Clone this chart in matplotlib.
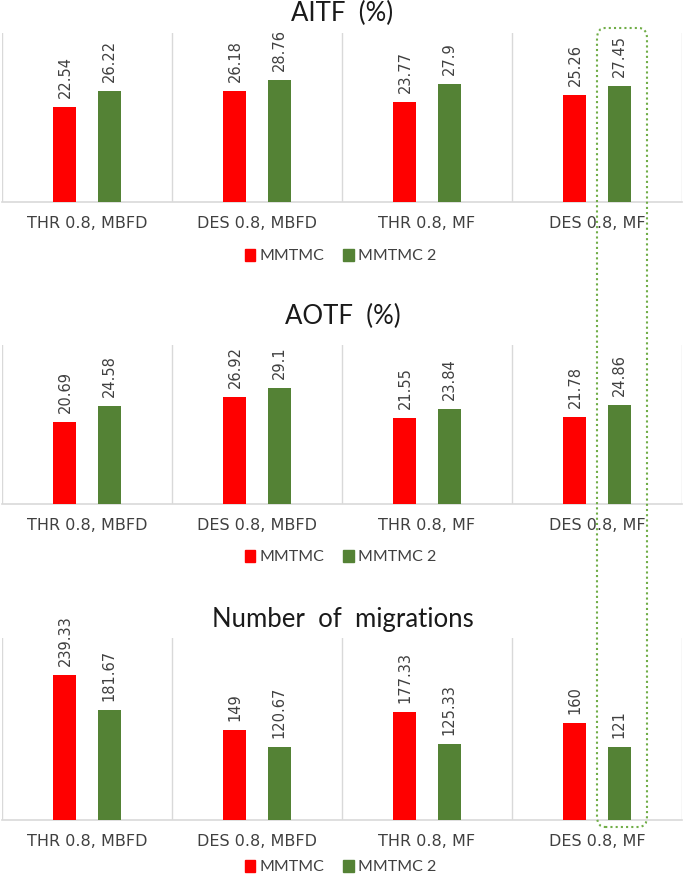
import matplotlib
matplotlib.use("Agg")
import matplotlib.pyplot as plt
import numpy as np
from matplotlib.patches import FancyBboxPatch, Patch

categories = ['THR 0.8, MBFD', 'DES 0.8, MBFD', 'THR 0.8, MF', 'DES 0.8, MF']
series = ['MMTMC', 'MMTMC 2']

aitf_mmtmc = [22.54, 26.18, 23.77, 25.26]
aitf_mmtmc2 = [26.22, 28.76, 27.9, 27.45]
aotf_mmtmc = [20.69, 26.92, 21.55, 21.78]
aotf_mmtmc2 = [24.58, 29.1, 23.84, 24.86]
mig_mmtmc = [239.33, 149, 177.33, 160]
mig_mmtmc2 = [181.67, 120.67, 125.33, 121]

titles = ['AITF  (%)', 'AOTF  (%)', 'Number  of  migrations']
ymax = [40, 40, 300]

RED = '#ff0000'
GREEN = '#548235'
GRID = '#d9d9d9'
TXT = '#404040'

plt.rcParams['font.family'] = ['Lato', 'DejaVu Sans']

W, H = 685, 875
fig = plt.figure(figsize=(W / 100, H / 100), dpi=100)

# panel geometry in pixels: (plot top, baseline, title y, legend y)
panels = [(33, 202, 13, 256), (345, 504, 316, 557), (638, 820, 620, 867)]
data = [(aitf_mmtmc, aitf_mmtmc2), (aotf_mmtmc, aotf_mmtmc2), (mig_mmtmc, mig_mmtmc2)]

x = np.arange(len(categories))
width = 0.135
off = 0.13

for (top, base, ty, ly), (s1, s2), title, ym in zip(panels, data, titles, ymax):
    ax = fig.add_axes([2 / W, (H - base) / H, 680 / W, (base - top) / H])
    ax.bar(x - off, s1, width, color=RED, zorder=3)
    ax.bar(x + off, s2, width, color=GREEN, zorder=3)
    for xs, vals in ((x - off, s1), (x + off, s2)):
        for xi, v in zip(xs, vals):
            ax.annotate(f'{v:g}', (xi, v), xytext=(0, 6.5), textcoords='offset points',
                        rotation=90, ha='center', va='bottom', fontsize=10.5, color=TXT,
                        fontfamily='DejaVu Sans')
    for sep in np.arange(-0.5, len(categories), 1.0):
        ax.axvline(sep, color=GRID, lw=1, zorder=1)
    ax.set_xlim(-0.5, len(categories) - 0.5)
    ax.set_ylim(0, ym)
    for s in ['top', 'left', 'right']:
        ax.spines[s].set_visible(False)
    ax.spines['bottom'].set_color(GRID)
    ax.spines['bottom'].set_linewidth(1.2)
    ax.set_yticks([])
    ax.set_xticks(x)
    ax.set_xticklabels(categories, fontsize=11.5, color=TXT, fontfamily='DejaVu Sans')
    ax.tick_params(axis='x', length=0, pad=10)
    fig.text(0.5, 1 - ty / H, title, ha='center', va='center', fontsize=18.5, color='#1a1a1a')
    handles = [Patch(color=RED, label=series[0]), Patch(color=GREEN, label=series[1])]
    fig.legend(handles=handles, loc='center', bbox_to_anchor=(0.497, 1 - ly / H), ncol=2,
               frameon=False, fontsize=11.5, handlelength=0.65, handleheight=0.85,
               handletextpad=0.25, columnspacing=1.2, labelcolor=TXT)

# dotted highlight box around the last MMTMC 2 bars
box = FancyBboxPatch((597 / W, 1 - 827 / H), 50 / W, (827 - 28) / H,
                     boxstyle='round,pad=0,rounding_size=0.012', transform=fig.transFigure,
                     fill=False, edgecolor='#70ad47', lw=1.5, linestyle=(0, (1, 1.5)))
fig.patches.append(box)

fig.savefig('out.png', dpi=100)
